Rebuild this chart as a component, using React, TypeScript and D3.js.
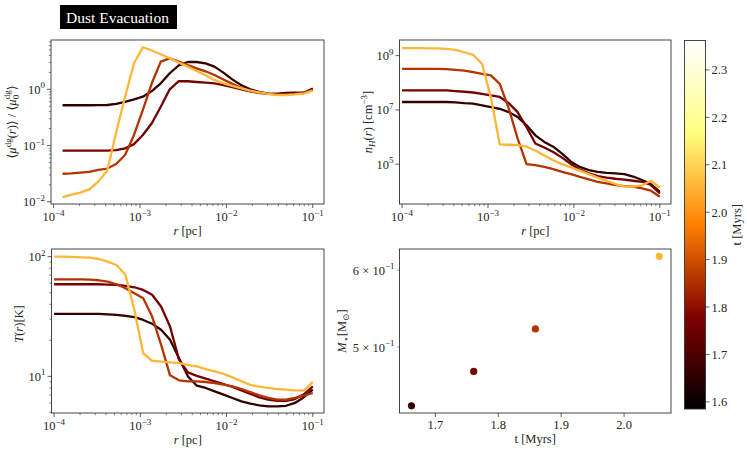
import * as d3 from "d3";

// radial bins [pc]
const radiusPc = [
  1.0e-4, 1.27e-4, 1.61e-4, 2.04e-4, 2.59e-4, 3.29e-4, 4.18e-4, 5.3e-4, 6.72e-4, 8.53e-4,
  1.08e-3, 1.37e-3, 1.74e-3, 2.21e-3, 2.81e-3, 3.56e-3, 4.52e-3, 5.74e-3, 7.28e-3, 9.24e-3,
  1.17e-2, 1.49e-2, 1.89e-2, 2.4e-2, 3.04e-2, 3.86e-2, 4.89e-2, 6.21e-2, 7.88e-2, 1.0e-1,
];

// snapshot times [Myrs] and sink mass [Msun]
const snapTimes = [1.662, 1.761, 1.859, 2.056];
const sinkMass = [0.435, 0.472, 0.522, 0.62];

// <mu_dg(r)> / <mu_dg,0>  (innermost bin empty)
const dustT0 = [null, 0.52, 0.52, 0.52, 0.52, 0.522, 0.526, 0.55, 0.6, 0.66, 0.74, 0.93, 1.28, 1.93, 2.67, 3.06, 3.06, 2.9, 2.53, 1.98, 1.5, 1.18, 1.0, 0.9, 0.84, 0.83, 0.86, 0.87, 0.86, 1.03];
const dustT1 = [null, 0.081, 0.081, 0.081, 0.081, 0.081, 0.081, 0.083, 0.089, 0.106, 0.154, 0.249, 0.49, 1.0, 1.4, 1.39, 1.35, 1.31, 1.28, 1.19, 1.09, 1.0, 0.92, 0.87, 0.84, 0.83, 0.84, 0.85, 0.87, 1.0];
const dustT2 = [null, 0.0315, 0.032, 0.033, 0.034, 0.037, 0.039, 0.047, 0.068, 0.154, 0.43, 1.28, 3.1, 3.55, 3.1, 2.7, 2.36, 2.09, 1.8, 1.5, 1.25, 1.05, 0.93, 0.86, 0.83, 0.815, 0.815, 0.83, 0.86, 0.97];
const dustT3 = [null, 0.0121, 0.0134, 0.0145, 0.0166, 0.0228, 0.036, 0.17, 0.74, 2.9, 5.6, 4.9, 4.2, 3.56, 2.98, 2.53, 2.12, 1.78, 1.47, 1.28, 1.15, 1.04, 0.95, 0.88, 0.83, 0.79, 0.79, 0.81, 0.84, 0.95];

// n_H(r) [cm^-3]
const densT0 = [1.95e7, 1.95e7, 1.95e7, 1.95e7, 1.95e7, 1.95e7, 1.9e7, 1.78e7, 1.7e7, 1.46e7, 1.26e7, 1.1e7, 8.3e6, 5.5e6, 2.7e6, 1.15e6, 6.6e5, 4.4e5, 2.45e5, 1.23e5, 7.9e4, 6.0e4, 5.2e4, 4.8e4, 4.6e4, 4.3e4, 3.5e4, 2.6e4, 1.86e4, 9.5e3];
const densT1 = [5.2e7, 5.2e7, 5.2e7, 5.2e7, 5.2e7, 5.2e7, 4.9e7, 4.65e7, 4.37e7, 3.9e7, 3.4e7, 3.0e7, 1.78e7, 8.3e6, 2.3e6, 5.8e5, 4.1e5, 2.8e5, 1.74e5, 1.0e5, 6.3e4, 4.6e4, 3.6e4, 3.2e4, 2.9e4, 2.7e4, 2.45e4, 2.24e4, 1.7e4, 8.3e3];
const densT2 = [3.24e8, 3.24e8, 3.24e8, 3.24e8, 3.24e8, 3.16e8, 2.98e8, 2.82e8, 2.45e8, 2.14e8, 1.86e8, 9.1e7, 1.17e7, 8.9e5, 1.0e5, 9.2e4, 7.9e4, 6.6e4, 5.2e4, 4.3e4, 3.4e4, 2.75e4, 2.24e4, 1.95e4, 1.7e4, 1.55e4, 1.48e4, 1.29e4, 1.05e4, 6.3e3];
const densT3 = [1.9e9, 1.9e9, 1.9e9, 1.86e9, 1.86e9, 1.76e9, 1.62e9, 1.33e9, 1.07e9, 4.9e8, 2.95e7, 5.4e5, 5.2e5, 5.0e5, 4.4e5, 3.2e5, 2.1e5, 1.4e5, 1.0e5, 7.6e4, 5.8e4, 4.3e4, 3.2e4, 2.45e4, 1.85e4, 1.48e4, 1.48e4, 1.66e4, 2.45e4, 1.35e4];

// T(r) [K]
const tempT0 = [33.3, 33.3, 33.3, 33.3, 33.3, 33.3, 33.0, 32.6, 32.0, 31.2, 29.6, 27.5, 24.5, 20.2, 14.2, 10.0, 8.36, 8.0, 7.5, 7.03, 6.59, 6.19, 5.92, 5.73, 5.62, 5.62, 5.68, 6.0, 6.7, 7.74];
const tempT1 = [58.8, 58.8, 58.8, 58.8, 58.8, 58.8, 58.4, 58.1, 57.0, 55.5, 52.7, 48, 38.3, 26.1, 13.8, 10.8, 10.1, 9.57, 9.08, 8.63, 8.15, 7.64, 7.13, 6.68, 6.39, 6.23, 6.23, 6.47, 7.08, 8.25];
const tempT2 = [64.7, 64.7, 64.7, 64.7, 64.3, 63.5, 61.9, 58.8, 54.4, 49.5, 44.9, 31.6, 18.4, 10.2, 9.26, 9.08, 9.08, 8.97, 8.8, 8.52, 8.25, 7.84, 7.4, 6.94, 6.6, 6.39, 6.39, 6.6, 6.9, 7.26];
const tempT3 = [100, 100, 99.4, 98.7, 98.1, 95.6, 90.9, 85.2, 70.3, 35.9, 15.6, 13.5, 13.3, 13.1, 12.9, 12.5, 12.1, 11.5, 11.0, 10.5, 9.8, 9.1, 8.5, 8.2, 8.0, 7.84, 7.74, 7.64, 7.6, 9.0];

// tick values
const radiusTicksExp = [-4, -3, -2, -1];
const dustTicksExp = [-2, -1, 0];
const densTicksExp = [5, 7, 9];
const tempTicksExp = [1, 2];
const massTicks = [0.5, 0.6];
const timeTicks = [1.7, 1.8, 1.9, 2.0];
const cbarTicks = [1.6, 1.7, 1.8, 1.9, 2.0, 2.1, 2.2, 2.3];

const FONT = "'Liberation Serif', 'DejaVu Serif', serif";
const FS = 12.5;
const SUP = 9;
const INK = "#262626";
const SPINE = "#333";
const radiusDomain = [Math.pow(10, -4.03), Math.pow(10, -0.87)];
const cbarDomain = [1.585, 2.362];

// matplotlib "afmhot"
function afmhot(v: number) {
  const c = (u: number) => Math.round(255 * Math.max(0, Math.min(1, u)));
  return `rgb(${c(2 * v)},${c(2 * v - 0.5)},${c(2 * v - 1)})`;
}
const norm = d3.scaleLinear().domain(cbarDomain).range([0, 1]);
const colorOf = (t: number) => afmhot(norm(t));

type Box = { l: number; r: number; t: number; b: number };

function Pow10({ x, y, exp, anchor, prefix = "" }: any) {
  return (
    <text x={x} y={y} textAnchor={anchor} fontSize={FS} fill={INK}>
      <tspan>{prefix}10</tspan>
      <tspan dy={-5.5} fontSize={SUP}>{exp < 0 ? `\u2212${-exp}` : `${exp}`}</tspan>
    </text>
  );
}

function minorLog(domain: number[]) {
  const out: number[] = [];
  const lo = Math.floor(Math.log10(domain[0]));
  const hi = Math.ceil(Math.log10(domain[1]));
  for (let e = lo; e <= hi; e++) {
    for (let s = 2; s <= 9; s++) {
      const v = s * Math.pow(10, e);
      if (v >= domain[0] && v <= domain[1]) out.push(v);
    }
  }
  return out;
}

function ProfilePanel({ box, yDomain, yTicksExp, yMinor, series, yLabel, yLabelX, yLabelY }: any) {
  const x = d3.scaleLog().domain(radiusDomain).range([box.l, box.r]);
  const y = d3.scaleLog().domain(yDomain).range([box.b, box.t]);
  const line = d3
    .line<[number, number | null]>()
    .defined((d) => d[1] != null)
    .x((d) => x(d[0]))
    .y((d) => y(d[1] as number));
  const xMinor = minorLog(radiusDomain);
  const yMin = yMinor ? minorLog(yDomain) : [];
  return (
    <g>
      {series.map((vals: (number | null)[], i: number) => (
        <path
          key={i}
          d={line(radiusPc.map((r, k) => [r, vals[k]])) || ""}
          fill="none"
          stroke={colorOf(snapTimes[i])}
          strokeWidth={2.3}
          strokeLinejoin="round"
        />
      ))}
      <rect x={box.l} y={box.t} width={box.r - box.l} height={box.b - box.t} fill="none" stroke={SPINE} strokeWidth={0.9} />
      {radiusTicksExp.map((e) => {
        const px = x(Math.pow(10, e));
        return (
          <g key={e}>
            <line x1={px} x2={px} y1={box.b} y2={box.b + 4} stroke={SPINE} strokeWidth={0.8} />
            <Pow10 x={px} y={box.b + 17} exp={e} anchor="middle" />
          </g>
        );
      })}
      {xMinor.map((v, i) => (
        <line key={i} x1={x(v)} x2={x(v)} y1={box.b} y2={box.b + 2.2} stroke={SPINE} strokeWidth={0.6} />
      ))}
      {yTicksExp.map((e: number) => {
        const py = y(Math.pow(10, e));
        return (
          <g key={e}>
            <line x1={box.l - 4} x2={box.l} y1={py} y2={py} stroke={SPINE} strokeWidth={0.8} />
            <Pow10 x={box.l - 6} y={py + 4.5} exp={e} anchor="end" />
          </g>
        );
      })}
      {yMin.map((v, i) => (
        <line key={i} x1={box.l - 2.2} x2={box.l} y1={y(v)} y2={y(v)} stroke={SPINE} strokeWidth={0.6} />
      ))}
      <text x={(box.l + box.r) / 2} y={box.b + 31} textAnchor="middle" fontSize={FS} fill={INK}>
        <tspan fontStyle="italic">r</tspan> [pc]
      </text>
      <text transform={`translate(${yLabelX},${yLabelY}) rotate(-90)`} textAnchor="middle" fontSize={FS} fill={INK}>
        {yLabel}
      </text>
    </g>
  );
}

function MassPanel({ box }: { box: Box }) {
  const x = d3.scaleLinear().domain([1.643, 2.0746]).range([box.l, box.r]);
  const y = d3.scaleLog().domain([Math.pow(10, -0.3689), Math.pow(10, -0.2001)]).range([box.b, box.t]);
  return (
    <g>
      {snapTimes.map((t, i) => (
        <circle key={i} cx={x(t)} cy={y(sinkMass[i])} r={3.6} fill={colorOf(t)} />
      ))}
      <rect x={box.l} y={box.t} width={box.r - box.l} height={box.b - box.t} fill="none" stroke={SPINE} strokeWidth={0.9} />
      {timeTicks.map((t) => (
        <g key={t}>
          <line x1={x(t)} x2={x(t)} y1={box.b} y2={box.b + 4} stroke={SPINE} strokeWidth={0.8} />
          <text x={x(t)} y={box.b + 16} textAnchor="middle" fontSize={FS} fill={INK}>{t.toFixed(1)}</text>
        </g>
      ))}
      {massTicks.map((m) => (
        <g key={m}>
          <line x1={box.l - 2.2} x2={box.l} y1={y(m)} y2={y(m)} stroke={SPINE} strokeWidth={0.6} />
          <Pow10 x={box.l - 5} y={y(m) + 4.5} exp={-1} anchor="end" prefix={`${Math.round(m * 10)} \u00d7 `} />
        </g>
      ))}
      <text x={(box.l + box.r) / 2} y={box.b + 30} textAnchor="middle" fontSize={FS} fill={INK}>t [Myrs]</text>
      <text transform={`translate(${box.l - 54},${(box.t + box.b) / 2}) rotate(-90)`} textAnchor="middle" fontSize={FS} fill={INK}>
        <tspan fontStyle="italic">M</tspan>
        <tspan dy={3} fontSize={SUP}>{"\u22c6"}</tspan>
        <tspan dy={-3}>[M</tspan>
        <tspan dy={3} fontSize={SUP}>{"\u2299"}</tspan>
        <tspan dy={-3}>]</tspan>
      </text>
    </g>
  );
}

function Colorbar({ box }: { box: Box }) {
  const y = d3.scaleLinear().domain(cbarDomain).range([box.b, box.t]);
  const stops = [0, 0.25, 0.5, 0.75, 1];
  return (
    <g>
      <defs>
        <linearGradient id="afmhot" x1="0" y1="1" x2="0" y2="0">
          {stops.map((s) => (
            <stop key={s} offset={s} stopColor={afmhot(s)} />
          ))}
        </linearGradient>
      </defs>
      <rect x={box.l} y={box.t} width={box.r - box.l} height={box.b - box.t} fill="url(#afmhot)" stroke={SPINE} strokeWidth={0.9} />
      {cbarTicks.map((t) => (
        <g key={t}>
          <line x1={box.r} x2={box.r + 4} y1={y(t)} y2={y(t)} stroke={SPINE} strokeWidth={0.8} />
          <text x={box.r + 6} y={y(t) + 4.5} fontSize={FS} fill={INK}>{t.toFixed(1)}</text>
        </g>
      ))}
      <text transform={`translate(${box.r + 35},${(box.t + box.b) / 2}) rotate(-90)`} textAnchor="middle" fontSize={FS} fill={INK}>
        t [Myrs]
      </text>
    </g>
  );
}

export default function App() {
  const tl: Box = { l: 51, r: 324, t: 40, b: 204 };
  const tr: Box = { l: 399.5, r: 671, t: 40, b: 204 };
  const bl: Box = { l: 51.5, r: 324, t: 249, b: 413 };
  const br: Box = { l: 399.5, r: 671, t: 249, b: 413 };
  const cb: Box = { l: 684.5, r: 705.5, t: 40.5, b: 409 };

  const dustLabel = (
    <>
      <tspan>{"\u27e8"}</tspan>
      <tspan fontStyle="italic">{"\u03bc"}</tspan>
      <tspan dy={-5.5} fontSize={SUP}>dg</tspan>
      <tspan dy={5.5}>(</tspan>
      <tspan fontStyle="italic">r</tspan>
      <tspan>){"\u27e9"} / {"\u27e8"}</tspan>
      <tspan fontStyle="italic">{"\u03bc"}</tspan>
      <tspan dy={3} fontSize={SUP}>0</tspan>
      <tspan dx={-4.5} dy={-9} fontSize={SUP}>dg</tspan>
      <tspan dy={6}>{"\u27e9"}</tspan>
    </>
  );
  const densLabel = (
    <>
      <tspan fontStyle="italic">n</tspan>
      <tspan dy={3} fontSize={SUP} fontStyle="italic">H</tspan>
      <tspan dy={-3}>(</tspan>
      <tspan fontStyle="italic">r</tspan>
      <tspan>) [cm</tspan>
      <tspan dy={-5.5} fontSize={SUP}>{"\u22123"}</tspan>
      <tspan dy={5.5}>]</tspan>
    </>
  );
  const tempLabel = (
    <>
      <tspan fontStyle="italic">T</tspan>
      <tspan>(</tspan>
      <tspan fontStyle="italic">r</tspan>
      <tspan>)[K]</tspan>
    </>
  );

  return (
    <svg
      width={747}
      height={451}
      style={{ position: "absolute", left: 0, top: 0, background: "#fff" }}
      fontFamily={FONT}
    >
      <rect x={0} y={0} width={747} height={451} fill="#fff" />
      <rect x={60} y={5} width={117} height={24} fill="#000" />
      <text x={66} y={22.5} fontSize={15.5} fill="#fff">Dust Evacuation</text>

      <ProfilePanel
        box={tl}
        yDomain={[Math.pow(10, -2.04), Math.pow(10, 0.877)]}
        yTicksExp={dustTicksExp}
        yMinor={true}
        series={[dustT0, dustT1, dustT2, dustT3]}
        yLabel={dustLabel}
        yLabelX={16}
        yLabelY={122}
      />
      <ProfilePanel
        box={tr}
        yDomain={[Math.pow(10, 3.532), Math.pow(10, 9.575)]}
        yTicksExp={densTicksExp}
        yMinor={false}
        series={[densT0, densT1, densT2, densT3]}
        yLabel={densLabel}
        yLabelX={372}
        yLabelY={122}
      />
      <ProfilePanel
        box={bl}
        yDomain={[Math.pow(10, 0.694), Math.pow(10, 2.064)]}
        yTicksExp={tempTicksExp}
        yMinor={true}
        series={[tempT0, tempT1, tempT2, tempT3]}
        yLabel={tempLabel}
        yLabelX={23}
        yLabelY={324}
      />
      <MassPanel box={br} />
      <Colorbar box={cb} />
    </svg>
  );
}
